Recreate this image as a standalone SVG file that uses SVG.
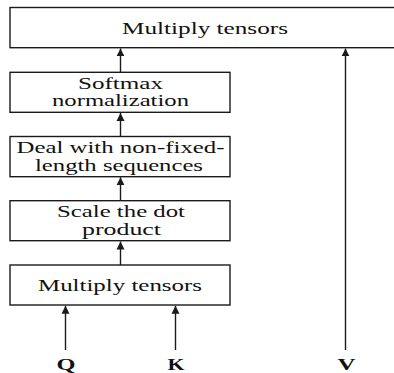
<svg xmlns="http://www.w3.org/2000/svg" width="394" height="373" viewBox="0 0 394 373">
<style>
.box{fill:#fff;stroke:#1a1a1a;stroke-width:1.4}
.t{font-family:'Liberation Serif','Times New Roman',serif;font-size:16.5px;fill:#111;text-anchor:middle}
.lbl{font-family:'Liberation Serif','Times New Roman',serif;font-size:17px;font-weight:bold;fill:#111;text-anchor:middle}
.c{stroke:#1a1a1a;stroke-width:1.4;fill:none;marker-end:url(#ah)}
</style>
<defs>
<marker id="ah" markerUnits="userSpaceOnUse" markerWidth="9" markerHeight="9" refX="8" refY="4.5" orient="auto">
<path d="M0,0.5 L8,4.5 L0,8.5 z" fill="#1a1a1a"/>
</marker>
</defs>
<rect width="394" height="373" fill="#fff"/>
<g id="connectors">
<line class="c" x1="120.5" y1="265" x2="120.5" y2="241.5"/>
<line class="c" x1="120.5" y1="200.7" x2="120.5" y2="177.3"/>
<line class="c" x1="120.5" y1="136.5" x2="120.5" y2="113"/>
<line class="c" x1="120.5" y1="72.3" x2="120.5" y2="48.4"/>
<line class="c" x1="65.5" y1="350" x2="65.5" y2="305.8"/>
<line class="c" x1="175.5" y1="350" x2="175.5" y2="305.8"/>
<line class="c" x1="345.5" y1="350" x2="345.5" y2="48.4"/>
</g>
<g id="multiply-top">
<rect class="box" x="10" y="7.5" width="400" height="40.2"/>
<text class="t" x="205" y="33.5" textLength="166" lengthAdjust="spacingAndGlyphs">Multiply tensors</text>
</g>
<g id="softmax">
<rect class="box" x="10" y="72.3" width="220" height="40"/>
<text class="t" x="120.5" y="88.5" textLength="85" lengthAdjust="spacingAndGlyphs">Softmax</text>
<text class="t" x="120.5" y="106" textLength="137" lengthAdjust="spacingAndGlyphs">normalization</text>
</g>
<g id="deal">
<rect class="box" x="10" y="136.5" width="220" height="40.2"/>
<text class="t" x="120.5" y="153.2" textLength="208" lengthAdjust="spacingAndGlyphs">Deal with non-fixed-</text>
<text class="t" x="119" y="170.7" textLength="168" lengthAdjust="spacingAndGlyphs">length sequences</text>
</g>
<g id="scale">
<rect class="box" x="10" y="200.7" width="220" height="40"/>
<text class="t" x="121" y="217.2" textLength="128" lengthAdjust="spacingAndGlyphs">Scale the dot</text>
<text class="t" x="121.5" y="234.7" textLength="79" lengthAdjust="spacingAndGlyphs">product</text>
</g>
<g id="multiply-bottom">
<rect class="box" x="10" y="265" width="220" height="40"/>
<text class="t" x="120" y="290.5" textLength="164" lengthAdjust="spacingAndGlyphs">Multiply tensors</text>
</g>
<g id="inputs">
<text class="lbl" x="66" y="369.5" textLength="19" lengthAdjust="spacingAndGlyphs">Q</text>
<text class="lbl" x="176" y="369.5" textLength="17" lengthAdjust="spacingAndGlyphs">K</text>
<text class="lbl" x="346.5" y="369.5" textLength="18" lengthAdjust="spacingAndGlyphs">V</text>
</g>
</svg>
